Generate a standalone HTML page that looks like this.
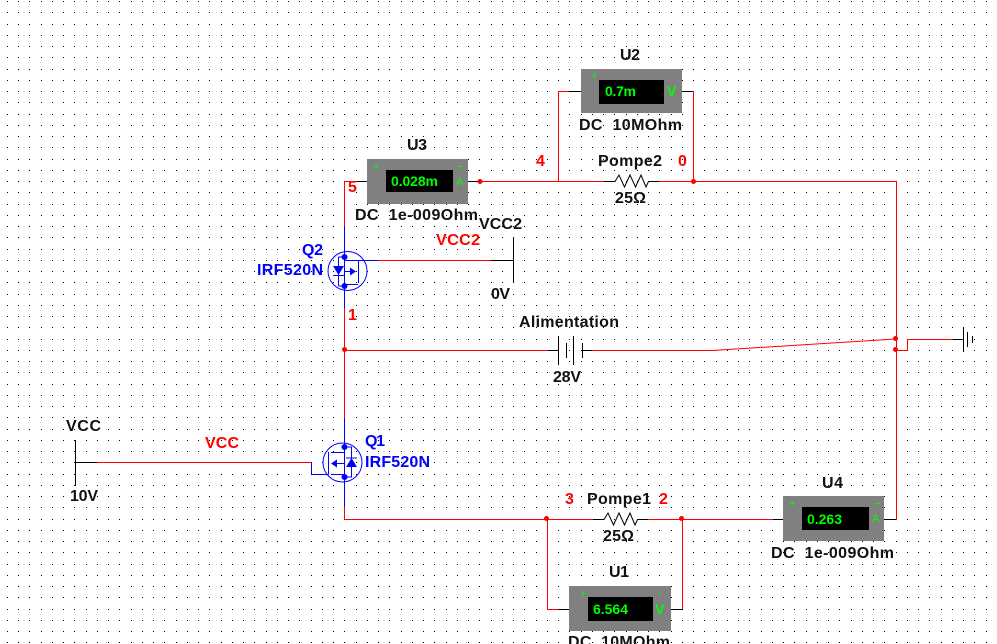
<!DOCTYPE html>
<html><head><meta charset="utf-8"><style>
html,body{margin:0;padding:0;background:#fff;width:997px;height:644px;overflow:hidden}
svg{display:block}
text{font-family:"Liberation Sans",sans-serif;font-weight:bold;font-size:16px;fill:#111;white-space:pre}
.r{fill:#f00}.b{fill:#00f}
.d{fill:#0f0;font-size:14px}
.s{font-size:11px;font-weight:normal}
.w{fill:none;stroke:#f00;stroke-width:1;shape-rendering:crispEdges}
.k{fill:none;stroke:#000;stroke-width:1;shape-rendering:crispEdges}
.u{fill:none;stroke:#00f;stroke-width:1}
</style></head><body>
<svg xmlns="http://www.w3.org/2000/svg" width="997" height="644" viewBox="0 0 997 644">
<defs>
<pattern id="g" patternUnits="userSpaceOnUse" x="0" y="0" width="45" height="45">
<path fill="#000" shape-rendering="crispEdges" d="M7 1h1v1h-1zM18 1h1v1h-1zM29 1h1v1h-1zM41 1h1v1h-1zM7 12h1v1h-1zM18 12h1v1h-1zM29 12h1v1h-1zM41 12h1v1h-1zM7 24h1v1h-1zM18 24h1v1h-1zM29 24h1v1h-1zM41 24h1v1h-1zM7 35h1v1h-1zM18 35h1v1h-1zM29 35h1v1h-1zM41 35h1v1h-1z"/>
</pattern>
</defs>
<rect width="997" height="644" fill="url(#g)"/>

<!-- red wires -->
<path class="w" d="M344.5 226V181.5H357M480 181.5H604M659 181.5H896.5V519.5H896M558.5 181V91.5H569M693.5 181V91.5H682M344.5 308V418M344.5 350.5H548M592 350.5H712M896 350.5H907.5V339.5H953M378 260.5H491M97 462.5H311.5M344.5 507V519.5H593M648 519.5H773M547.5 519V609.5H558M682.5 519V609.5H671"/>
<path d="M712 350.500L895 339" fill="none" stroke="#f00" stroke-width="1"/>

<!-- black stubs -->
<path class="k" d="M357 181.5H367M468 181.5H480M569 91.5H581M682 91.5H693M548 350.5H558M582 350.5H592M491 260.5H513M513.5 237V283M75 462.5H97M75.5 440V486M558 609.5H569M671 609.5H683M773 519.5H783M884 519.5H896M953 339.5H963M963.5 327V352M967.5 332V347M972.5 336V343M558.5 336V365M566.5 343V358M573.5 336V365M582.5 343V358"/>
<path d="M604 181.5H615L619 175L624.5 187L630 175L635.5 187L641 175L646 187L648.5 181.5H659" fill="none" stroke="#000" stroke-width="1"/>
<path d="M593 519.5H604L608 513L613.5 525L619 513L624.5 525L630 513L635 525L637.5 519.5H648" fill="none" stroke="#000" stroke-width="1"/>

<!-- meters -->
<g fill="#808080">
<rect x="367" y="159" width="101" height="45"/>
<rect x="581" y="69" width="101" height="44"/>
<rect x="569" y="586" width="102" height="45"/>
<rect x="783" y="496" width="101" height="45"/>
</g>
<g fill="#000">
<rect x="386" y="170" width="67" height="22"/>
<rect x="599" y="80" width="65" height="24"/>
<rect x="588" y="597" width="65" height="24"/>
<rect x="802" y="507" width="67" height="23"/>
</g>
<text class="d" x="391" y="186" textLength="47">0.028m</text>
<text class="d" x="605" y="96" textLength="31">0.7m</text>
<text class="d" x="593" y="614" textLength="35">6.564</text>
<text class="d" x="807" y="524" textLength="35">0.263</text>
<text class="d s" x="373" y="170">+</text>
<text class="d s" x="457" y="170">−</text>
<text class="d s" x="456" y="185">A</text>
<text class="d s" x="591" y="79">+</text>
<text class="d s" x="670" y="79">-</text>
<text class="d" x="667" y="96">V</text>
<text class="d s" x="580" y="597">+</text>
<text class="d s" x="658" y="597">-</text>
<text class="d" x="655" y="614">V</text>
<text class="d s" x="789" y="507">+</text>
<text class="d s" x="874" y="507">−</text>
<text class="d s" x="872" y="522">A</text>

<!-- Q2 -->
<path class="u" d="M344.5 226V308"/>
<circle class="u" cx="347.5" cy="271" r="19.5"/>
<path class="u" d="M338.5 257H344.5M338.5 286H344.5M338.5 257V286M344.500 260.500H358.500V283M344.500 284.500H358M344.500 271.500H350M358.500 260.500H378"/>
<path fill="#00f" d="M333 266H344L338.500 275ZM350 267.500L356 271.500L350 275.500Z"/>
<path class="u" d="M333 275.500H344"/>
<circle cx="344.500" cy="257" r="3" fill="#00f"/>
<circle cx="344.500" cy="286" r="3" fill="#00f"/>

<!-- Q1 -->
<path class="u" d="M344.500 418V507"/>
<circle class="u" cx="342.500" cy="462.500" r="19.500"/>
<path class="u" d="M311.500 462.500V474.500H328.500M328.500 452V474.500M331 452.500H344.500M331 474.500H344.500M336 463.500H344.500M344.500 447H351.500V477H344.500"/>
<path fill="#00f" d="M331 463.500L337 459.500V467.500ZM346 467H357L351.500 458Z"/>
<path class="u" d="M346 458H357"/>
<circle cx="344.500" cy="447" r="3" fill="#00f"/>
<circle cx="344.500" cy="477" r="3" fill="#00f"/>

<!-- junctions -->
<g fill="#f00">
<circle cx="480" cy="181.500" r="2.500"/>
<circle cx="693.500" cy="181.500" r="2.500"/>
<circle cx="344.500" cy="349.500" r="2.500"/>
<circle cx="895.500" cy="338.500" r="2.500"/>
<circle cx="895.500" cy="349.500" r="2.500"/>
<circle cx="546.500" cy="518.500" r="2.500"/>
<circle cx="681.500" cy="518.500" r="2.500"/>
</g>

<!-- labels -->
<text x="407" y="150" textLength="20">U3</text>
<text x="355" y="220" textLength="123">DC  1e-009Ohm</text>
<text x="479" y="229" textLength="43">VCC2</text>
<text class="r" x="436" y="245" textLength="44">VCC2</text>
<text x="491" y="299" textLength="19">0V</text>
<text class="b" x="302" y="255" textLength="21">Q2</text>
<text class="b" x="257" y="275" textLength="66">IRF520N</text>
<text class="r" x="348" y="192">5</text>
<text class="r" x="348" y="320">1</text>
<text x="620" y="60" textLength="20">U2</text>
<text x="579" y="130" textLength="103">DC  10MOhm</text>
<text x="598" y="166" textLength="64">Pompe2</text>
<text class="r" x="678" y="166">0</text>
<text class="r" x="536" y="166">4</text>
<text x="615" y="203" textLength="31">25Ω</text>
<text x="519" y="327" textLength="100">Alimentation</text>
<text x="553" y="382" textLength="28">28V</text>
<text x="66" y="431" textLength="35">VCC</text>
<text x="70" y="501" textLength="28">10V</text>
<text class="r" x="205" y="448" textLength="34">VCC</text>
<text class="b" x="365" y="446" textLength="20">Q1</text>
<text class="b" x="365" y="467" textLength="65">IRF520N</text>
<text x="587" y="504" textLength="64">Pompe1</text>
<text class="r" x="565" y="504">3</text>
<text class="r" x="659" y="504">2</text>
<text x="603" y="541" textLength="31">25Ω</text>
<text x="609" y="577" textLength="20">U1</text>
<text x="568" y="647" textLength="102">DC  10MOhm</text>
<text x="822" y="488" textLength="21">U4</text>
<text x="771" y="558" textLength="123">DC  1e-009Ohm</text>
</svg>
</body></html>
